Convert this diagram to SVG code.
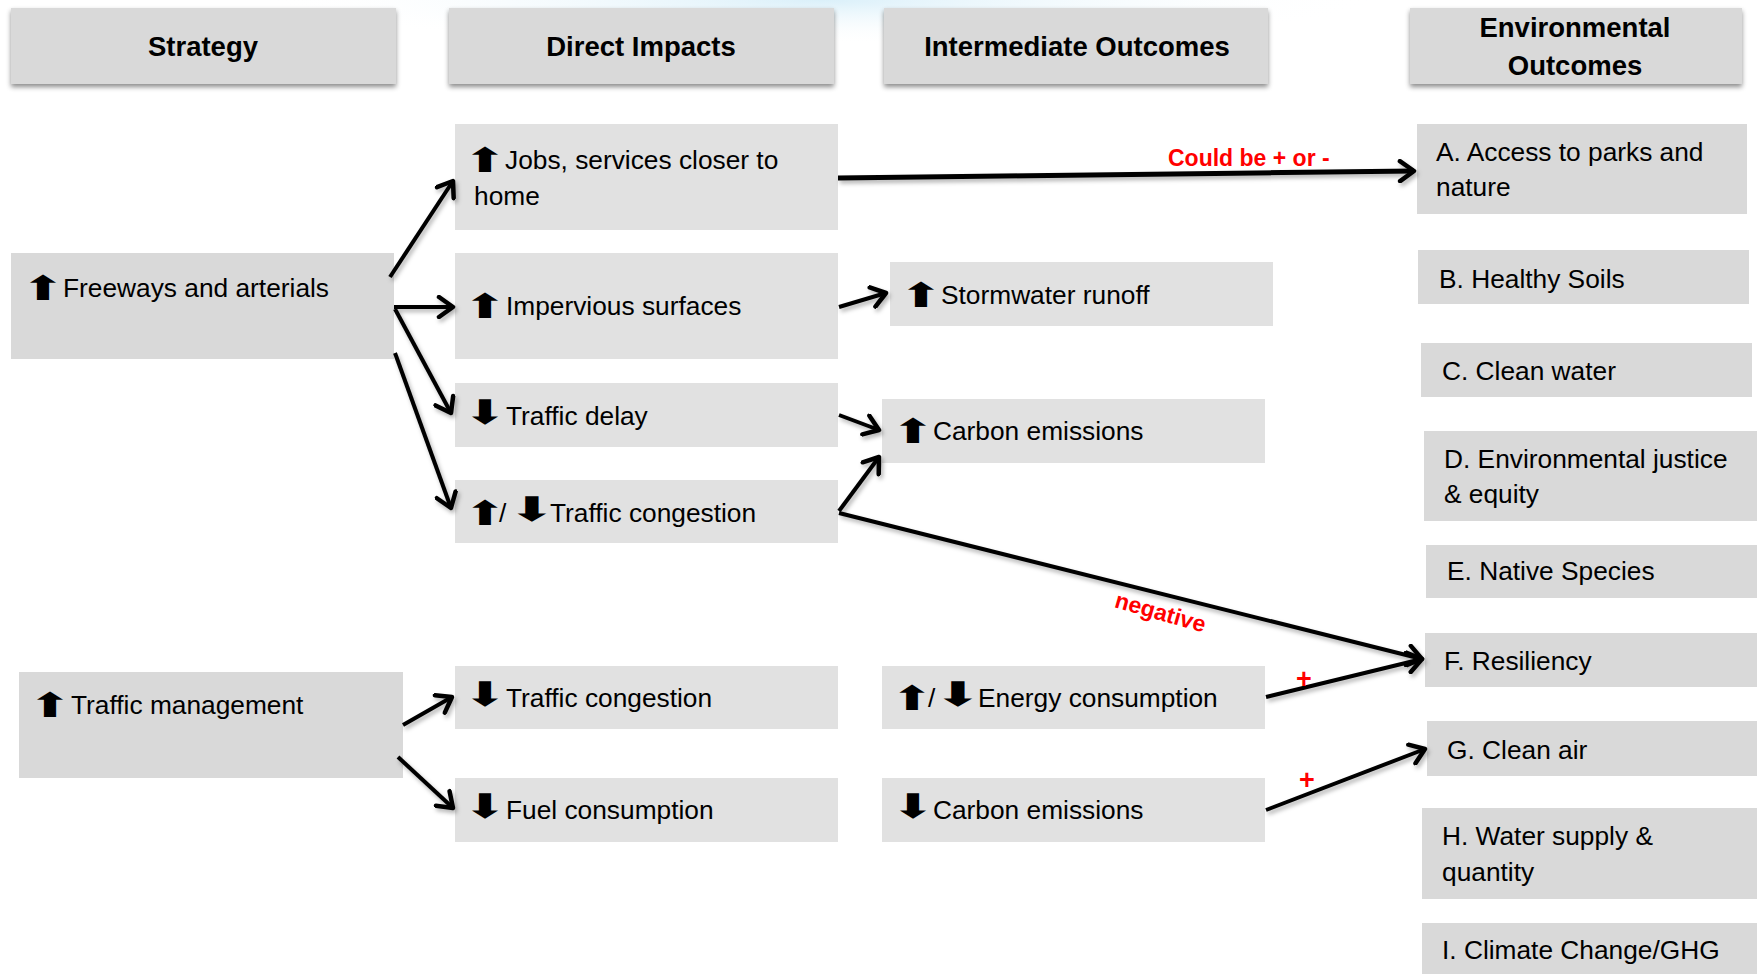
<svg xmlns="http://www.w3.org/2000/svg" width="1757" height="974" viewBox="0 0 1757 974">
<defs>
<radialGradient id="glow" cx="50%" cy="50%" r="50%">
<stop offset="0" stop-color="#d6eef9" stop-opacity="0.9"/>
<stop offset="1" stop-color="#ffffff" stop-opacity="0"/>
</radialGradient>
<filter id="shadow" x="-5%" y="-10%" width="110%" height="140%">
<feDropShadow dx="0" dy="3" stdDeviation="2.5" flood-color="#000" flood-opacity="0.45"/>
</filter>
<filter id="lshadow" x="-10%" y="-10%" width="120%" height="120%">
<feDropShadow dx="2" dy="3" stdDeviation="2" flood-color="#000" flood-opacity="0.3"/>
</filter>
<marker id="arr" viewBox="0 0 20 24" refX="17" refY="12" markerWidth="20" markerHeight="24" markerUnits="userSpaceOnUse" orient="auto">
<path d="M3,2 L17,12 L3,22" fill="none" stroke="#000" stroke-width="4.5" stroke-linecap="round" stroke-linejoin="round"/>
</marker>
<style>
.hdr{fill:#d9d9d9;filter:url(#shadow)}
.ht{font-family:"Liberation Sans",Arial,sans-serif;font-weight:bold;font-size:27.5px;text-anchor:middle;fill:#000}
.s{fill:#d9d9d9}
.d{fill:#e1e1e1}
.e{fill:#d9d9d9}
.t{font-family:"Liberation Sans",Arial,sans-serif;font-size:26.3px;fill:#000}
.ar{font-family:"DejaVu Sans",sans-serif;font-size:34px;fill:#000;text-anchor:middle}
.c{stroke:#000;stroke-width:4;fill:none;marker-end:url(#arr)}
.lbl{font-family:"Liberation Sans",Arial,sans-serif;font-weight:bold;font-size:23px;fill:#ff0000}
.pl{font-family:"Liberation Sans",Arial,sans-serif;font-weight:bold;font-size:27px;fill:#ff0000;text-anchor:middle}
</style>
</defs>
<rect width="1757" height="974" fill="#ffffff"/>
<ellipse cx="820" cy="0" rx="560" ry="45" fill="url(#glow)"/>

<g id="hdr-strategy"><rect class="hdr" x="11" y="8" width="385" height="76"/><text class="ht" x="203" y="56">Strategy</text></g>
<g id="hdr-direct"><rect class="hdr" x="449" y="8" width="385" height="76"/><text class="ht" x="641" y="56">Direct Impacts</text></g>
<g id="hdr-intermediate"><rect class="hdr" x="884" y="8" width="384" height="76"/><text class="ht" x="1077" y="56">Intermediate Outcomes</text></g>
<g id="hdr-env"><rect class="hdr" x="1410" y="8" width="332" height="76"/><text class="ht" x="1575" y="37">Environmental</text><text class="ht" x="1575" y="75">Outcomes</text></g>

<g id="freeways"><rect class="s" x="11" y="253" width="383" height="106"/><text class="ar" transform="translate(43,300) scale(1.55,1)">⬆</text><text class="t" x="63" y="297">Freeways and arterials</text></g>
<g id="traffic-mgmt"><rect class="s" x="19" y="672" width="384" height="106"/><text class="ar" transform="translate(50,717) scale(1.55,1)">⬆</text><text class="t" x="71" y="714">Traffic management</text></g>

<g id="jobs"><rect class="d" x="455" y="124" width="383" height="106"/><text class="ar" transform="translate(485,172) scale(1.55,1)">⬆</text><text class="t" x="505" y="169">Jobs, services closer to</text><text class="t" x="474" y="205">home</text></g>
<g id="impervious"><rect class="d" x="455" y="253" width="383" height="106"/><text class="ar" transform="translate(485,318) scale(1.55,1)">⬆</text><text class="t" x="506" y="315">Impervious surfaces</text></g>
<g id="delay"><rect class="d" x="455" y="383" width="383" height="64"/><text class="ar" transform="translate(485,424) scale(1.55,1)">⬇</text><text class="t" x="506" y="425">Traffic delay</text></g>
<g id="congestion1"><rect class="d" x="455" y="480" width="383" height="63"/><text class="ar" transform="translate(485,525) scale(1.5,1)">⬆</text><text class="t" x="499" y="522">/</text><text class="ar" transform="translate(532,521) scale(1.7,1)">⬇</text><text class="t" x="550" y="522">Traffic congestion</text></g>
<g id="congestion2"><rect class="d" x="455" y="666" width="383" height="63"/><text class="ar" transform="translate(485,706) scale(1.55,1)">⬇</text><text class="t" x="506" y="707">Traffic congestion</text></g>
<g id="fuel"><rect class="d" x="455" y="778" width="383" height="64"/><text class="ar" transform="translate(485,818) scale(1.55,1)">⬇</text><text class="t" x="506" y="819">Fuel consumption</text></g>

<g id="stormwater"><rect class="d" x="890" y="262" width="383" height="64"/><text class="ar" transform="translate(921,307) scale(1.55,1)">⬆</text><text class="t" x="941" y="304">Stormwater runoff</text></g>
<g id="carbon1"><rect class="d" x="882" y="399" width="383" height="64"/><text class="ar" transform="translate(913,443) scale(1.55,1)">⬆</text><text class="t" x="933" y="440">Carbon emissions</text></g>
<g id="energy"><rect class="d" x="882" y="666" width="383" height="63"/><text class="ar" transform="translate(912,710) scale(1.5,1)">⬆</text><text class="t" x="928" y="707">/</text><text class="ar" transform="translate(958,706) scale(1.7,1)">⬇</text><text class="t" x="978" y="707">Energy consumption</text></g>
<g id="carbon2"><rect class="d" x="882" y="778" width="383" height="64"/><text class="ar" transform="translate(913,818) scale(1.55,1)">⬇</text><text class="t" x="933" y="819">Carbon emissions</text></g>

<g id="env-a"><rect class="e" x="1417" y="124" width="330" height="90"/><text class="t" x="1436" y="161">A. Access to parks and</text><text class="t" x="1436" y="196">nature</text></g>
<g id="env-b"><rect class="e" x="1418" y="250" width="331" height="54"/><text class="t" x="1439" y="288">B. Healthy Soils</text></g>
<g id="env-c"><rect class="e" x="1421" y="343" width="331" height="54"/><text class="t" x="1442" y="380">C. Clean water</text></g>
<g id="env-d"><rect class="e" x="1424" y="431" width="333" height="90"/><text class="t" x="1444" y="468">D. Environmental justice</text><text class="t" x="1444" y="503">&amp; equity</text></g>
<g id="env-e"><rect class="e" x="1426" y="545" width="331" height="53"/><text class="t" x="1447" y="580">E. Native Species</text></g>
<g id="env-f"><rect class="e" x="1425" y="633" width="332" height="54"/><text class="t" x="1444" y="670">F. Resiliency</text></g>
<g id="env-g"><rect class="e" x="1427" y="721" width="330" height="55"/><text class="t" x="1447" y="759">G. Clean air</text></g>
<g id="env-h"><rect class="e" x="1422" y="808" width="335" height="91"/><text class="t" x="1442" y="845">H. Water supply &amp;</text><text class="t" x="1442" y="881">quantity</text></g>
<g id="env-i"><rect class="e" x="1422" y="923" width="335" height="60"/><text class="t" x="1442" y="959">I. Climate Change/GHG</text></g>

<g id="connectors" filter="url(#lshadow)">
<line class="c" x1="390" y1="277" x2="453" y2="181"/>
<line class="c" x1="394" y1="307" x2="453" y2="307"/>
<line class="c" x1="395" y1="309" x2="451" y2="413"/>
<line class="c" x1="395" y1="353" x2="451" y2="508"/>
<line class="c" x1="838" y1="178" x2="1414" y2="171" style="stroke-width:5"/>
<line class="c" x1="839" y1="307" x2="886" y2="293"/>
<line class="c" x1="839" y1="415" x2="879" y2="430"/>
<line class="c" x1="839" y1="511" x2="879" y2="457"/>
<line class="c" x1="839" y1="513" x2="1422" y2="659"/>
<line class="c" x1="403" y1="725" x2="452" y2="697"/>
<line class="c" x1="398" y1="757" x2="453" y2="808"/>
<line class="c" x1="1266" y1="697" x2="1422" y2="659"/>
<line class="c" x1="1266" y1="810" x2="1425" y2="749"/>
</g>
<g id="labels">
<text class="lbl" x="1168" y="166">Could be + or -</text>
<text class="lbl" x="1160" y="620" text-anchor="middle" transform="rotate(16 1160 614)">negative</text>
<text class="pl" x="1304" y="688">+</text>
<text class="pl" x="1307" y="789">+</text>
</g>
</svg>
